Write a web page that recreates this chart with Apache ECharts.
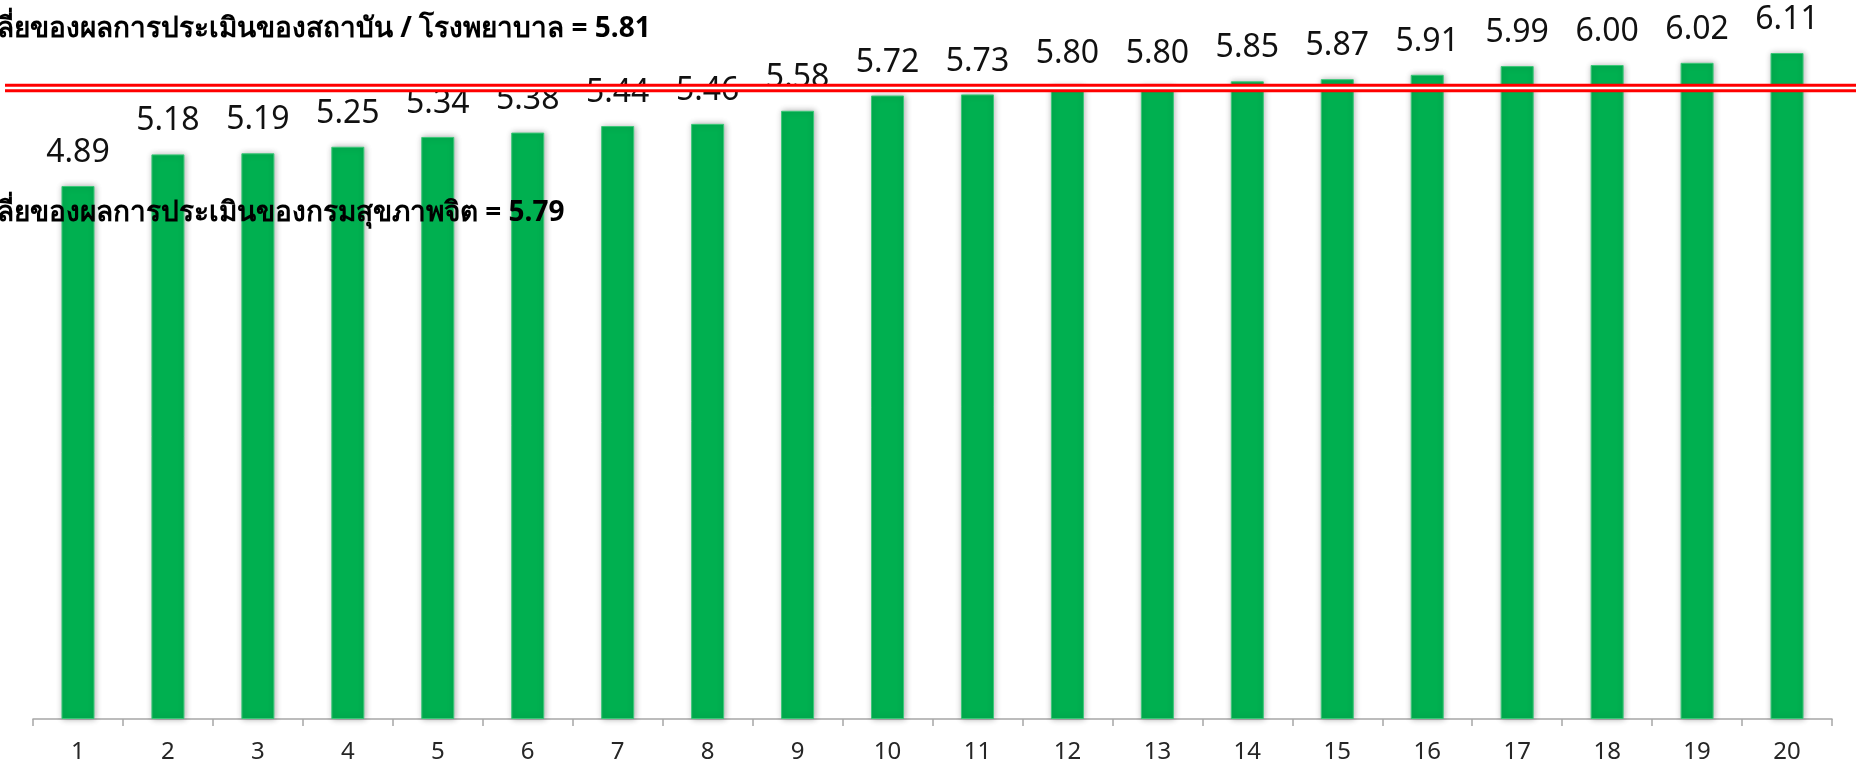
<!DOCTYPE html>
<html>
<head>
<meta charset="utf-8">
<script src="https://cdn.jsdelivr.net/npm/echarts@6/dist/echarts.min.js"></script>
<style>
html,body{margin:0;padding:0;background:#fff;}
#main{width:1856px;height:770px;}
</style>
</head>
<body>
<div id="main"></div>
<script>
const categories = ['1','2','3','4','5','6','7','8','9','10','11','12','13','14','15','16','17','18','19','20'];
const scores = [4.89,5.18,5.19,5.25,5.34,5.38,5.44,5.46,5.58,5.72,5.73,5.80,5.80,5.85,5.87,5.91,5.99,6.00,6.02,6.11];
const hospitalAvg = 5.81;
const deptAvg = 5.79;
const hospitalNote = 'ลี่ยของผลการประเมินของสถาบัน / โรงพยาบาล = ' + hospitalAvg.toFixed(2);
const deptNote = 'ลี่ยของผลการประเมินของกรมสุขภาพจิต = ' + deptAvg.toFixed(2);

const chart = echarts.init(document.getElementById('main'), null, {renderer:'canvas'});
const option = {
  animation: false,
  backgroundColor: '#ffffff',
  grid: {left: 33, right: 24, top: 10.5, bottom: 51, containLabel: false},
  xAxis: {
    type: 'category',
    data: categories,
    axisLine: {lineStyle: {color: '#a6a6a6', width: 1.5}},
    axisTick: {show: true, length: 7, lineStyle: {color: '#a6a6a6', width: 1.5}},
    axisLabel: {color: '#262626', fontSize: 24, fontFamily: 'Noto Sans', margin: 21}
  },
  yAxis: {
    type: 'value', min: 0, max: 6.5,
    show: false,
    splitLine: {show: false}
  },
  series: [{
    type: 'bar',
    data: scores,
    barWidth: 33,
    itemStyle: {
      color: '#00B050',
      borderColor: '#3cc878',
      borderWidth: 1,
      shadowBlur: 6,
      shadowColor: 'rgba(0,0,0,0.3)',
      shadowOffsetX: 1
    },
    label: {
      show: true, position: 'top', distance: 17,
      color: '#111', fontSize: 32, fontFamily: 'Noto Sans',
      formatter: p => p.value.toFixed(2)
    },
    z: 2
  }]
};
chart.setOption(option);

const yLine = chart.convertToPixel({yAxisIndex: 0}, deptAvg);
chart.setOption({
  graphic: [
    {type: 'line', z: 100, shape: {x1: 5, y1: yLine, x2: 1856, y2: yLine}, style: {stroke: '#ff0000', lineWidth: 8.5}},
    {type: 'line', z: 101, shape: {x1: 5, y1: yLine, x2: 1856, y2: yLine}, style: {stroke: '#ffffff', lineWidth: 2.5}},
    {type: 'text', z: 102, left: -3, top: 15, style: {text: hospitalNote, fill: '#000', font: 'bold 28px "Noto Sans", sans-serif'}},
    {type: 'text', z: 102, left: -3, top: 199, style: {text: deptNote, fill: '#000', font: 'bold 28px "Noto Sans", sans-serif'}}
  ]
});
</script>
</body>
</html>
